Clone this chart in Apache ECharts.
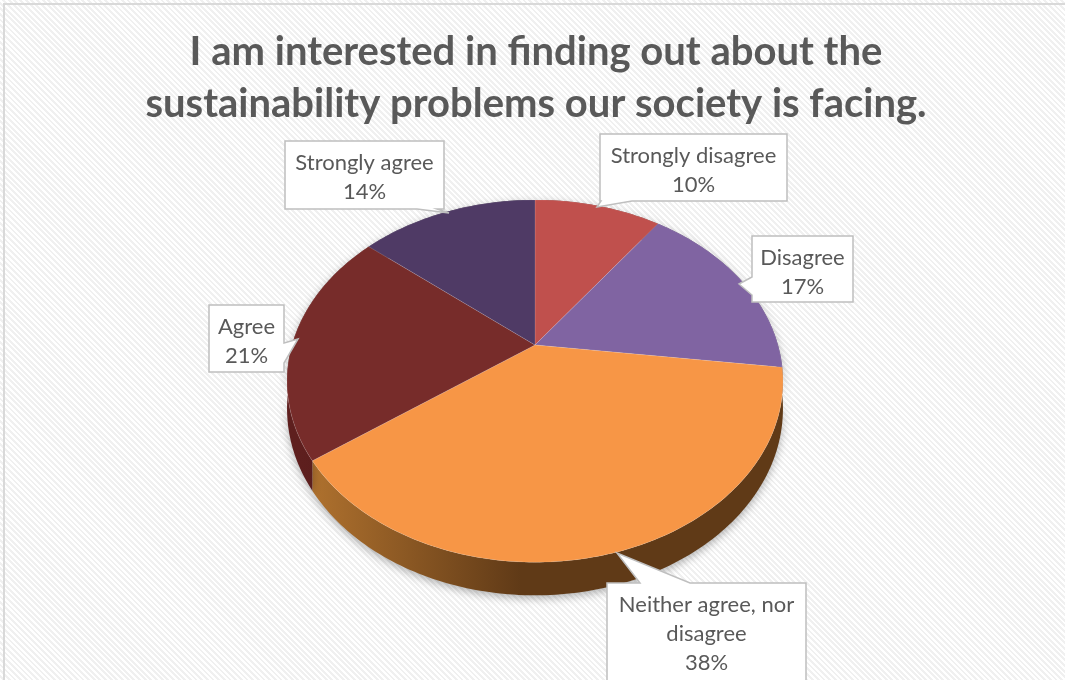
<!DOCTYPE html>
<html>
<head>
<meta charset="utf-8">
<script src="https://cdn.jsdelivr.net/npm/echarts@6/dist/echarts.min.js"></script>
<style>
  html, body { margin: 0; padding: 0; width: 1065px; height: 680px; overflow: hidden;
    background: repeating-linear-gradient(45deg, #ffffff 0px, #ffffff 2px, #f0f0f0 2px, #f0f0f0 4px); }
  #frame { position: absolute; left: 3px; top: 3px; width: 1200px; height: 800px;
    border-left: 2px solid #d9d9d9; border-top: 2px solid #d9d9d9; }
  #chart { position: absolute; left: 0; top: 0; width: 1065px; height: 680px; }
</style>
</head>
<body>
<div id="frame"></div>
<div id="chart"></div>
<script>
// ---------- data ----------
const titleText = 'I am interested in finding out about the\nsustainability problems our society is facing.';
const categories = ['Strongly disagree', 'Disagree', 'Neither agree, nor disagree', 'Agree', 'Strongly agree'];
const labelNames = ['Strongly disagree', 'Disagree', 'Neither agree, nor\ndisagree', 'Agree', 'Strongly agree'];
const percents = [10, 17, 38, 21, 14];

// ---------- styles / layout ----------
const topColors = ['#C0504D', '#8064A2', '#F79646', '#772C2A', '#4F3A65'];
const sideColors = [
  ['#8c3431', '#6e2624'],
  ['#5b4378', '#46335e'],
  ['#b3742f', '#603a17'],
  ['#5e1f1e', '#3f1413'],
  ['#3a2a4c', '#2c203a']
];
// callout boxes: [x, y, w, h], wedge edge, wedge base (two coords along edge), tip
const callouts = [
  { box: [600, 134, 187, 67], edge: 'bottom', base: [601, 632], tip: [597, 207] },
  { box: [752, 236, 101, 66], edge: 'left', base: [277, 295], tip: [739, 284] },
  { box: [607, 583, 199, 120], edge: 'top', base: [640, 690], tip: [617, 553] },
  { box: [209, 305, 75, 67], edge: 'right', base: [343, 363], tip: [298, 339] },
  { box: [285, 141, 159, 68], edge: 'bottom', base: [417, 437], tip: [449, 213] }
];

const CX = 535, CY = 345, R = 243, S = 174, K = 0.199, H = 26.5;

const total = percents.reduce((a, b) => a + b, 0);
const starts = [];
let acc = 0;
percents.forEach(p => { starts.push(acc / total * Math.PI * 2); acc += p; });

function proj(theta, drop) {
  const u = Math.sin(theta), v = Math.cos(theta);
  const w = 1 + K * v;
  return [CX + R * u / w, CY - S * v / w + (drop ? H / w : 0)];
}
function arc(a0, a1, drop) {
  const n = Math.max(2, Math.ceil((a1 - a0) / (Math.PI / 180)));
  const pts = [];
  for (let i = 0; i <= n; i++) pts.push(proj(a0 + (a1 - a0) * i / n, drop));
  return pts;
}
function calloutPoints(c) {
  const [x, y, w, h] = c.box;
  const x1 = x + w, y1 = y + h;
  const b = c.base, t = c.tip;
  const pts = [[x, y]];
  if (c.edge === 'top') pts.push([b[0], y], t, [b[1], y]);
  pts.push([x1, y]);
  if (c.edge === 'right') pts.push([x1, b[0]], t, [x1, b[1]]);
  pts.push([x1, y1]);
  if (c.edge === 'bottom') pts.push([b[1], y1], t, [b[0], y1]);
  pts.push([x, y1]);
  if (c.edge === 'left') pts.push([x, b[1]], t, [x, b[0]]);
  return pts;
}

const seriesData = percents.map((p, i) => ({ name: categories[i], value: [i, p] }));

const chart = echarts.init(document.getElementById('chart'), null, { renderer: 'canvas' });
chart.setOption({
  backgroundColor: 'transparent',
  animation: false,
  title: {
    text: titleText,
    left: 536, top: 26, textAlign: 'center', padding: 0,
    textStyle: { fontFamily: 'Lato', fontWeight: 'bold', fontSize: 40, lineHeight: 52, color: '#595959' }
  },
  series: [
    { // side walls
      type: 'custom', coordinateSystem: 'none', z: 1, silent: true,
      data: seriesData,
      renderItem: function (params, api) {
        const i = api.value(0);
        const a0 = starts[i], a1 = a0 + api.value(1) / total * Math.PI * 2;
        const pts = arc(a0, a1, false).concat(arc(a0, a1, true).reverse());
        return {
          type: 'polygon',
          shape: { points: pts },
          style: {
            fill: new echarts.graphic.LinearGradient(300, 0, 790, 0, [
              { offset: 0, color: sideColors[i][0] },
              { offset: 0.45, color: sideColors[i][1] },
              { offset: 1, color: sideColors[i][1] }
            ], true),
            shadowBlur: 8, shadowColor: 'rgba(0,0,0,0.3)', shadowOffsetY: 3
          }
        };
      }
    },
    { // top faces
      type: 'custom', coordinateSystem: 'none', z: 2, silent: true,
      data: seriesData,
      renderItem: function (params, api) {
        const i = api.value(0);
        const a0 = starts[i], a1 = a0 + api.value(1) / total * Math.PI * 2;
        const pts = [[CX, CY]].concat(arc(a0, a1, false));
        return {
          type: 'polygon',
          shape: { points: pts },
          style: { fill: topColors[i], stroke: 'rgba(255,255,255,0.12)', lineWidth: 1 }
        };
      }
    },
    { // callout labels
      type: 'custom', coordinateSystem: 'none', z: 3, silent: true,
      data: seriesData,
      renderItem: function (params, api) {
        const i = api.value(0);
        const c = callouts[i];
        const [x, y, w, h] = c.box;
        const nLines = labelNames[i].split('\n').length + 1;
        const lh = 29;
        return {
          type: 'group',
          children: [
            {
              type: 'polygon',
              shape: { points: calloutPoints(c) },
              style: { fill: '#ffffff', stroke: '#bfbfbf', lineWidth: 1.5 }
            },
            {
              type: 'text',
              style: {
                text: labelNames[i] + '\n' + Math.round(api.value(1) / total * 100) + '%',
                x: x + w / 2,
                y: y + 8 + (nLines * lh) / 2 - 1,
                align: 'center', verticalAlign: 'middle',
                fontFamily: 'Lato', fontSize: 22, lineHeight: lh,
                fill: '#595959'
              }
            }
          ]
        };
      }
    }
  ]
});
</script>
</body>
</html>
